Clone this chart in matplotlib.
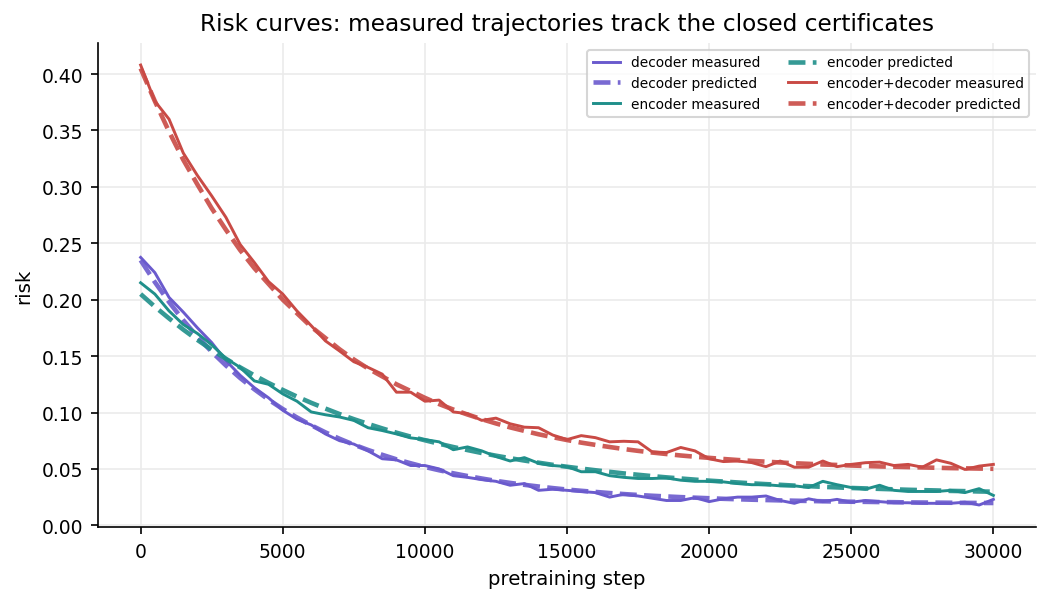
import numpy as np
import matplotlib
matplotlib.use('Agg')
import matplotlib.pyplot as plt

steps = np.arange(0, 30001, 500)

dec_meas = [0.2375, 0.224, 0.202, 0.189, 0.175, 0.162, 0.146, 0.133, 0.122, 0.113,
            0.102, 0.094, 0.089, 0.081, 0.075, 0.072, 0.066, 0.059, 0.058, 0.053,
            0.053, 0.050, 0.044, 0.0425, 0.0405, 0.039, 0.0355, 0.037, 0.031, 0.032,
            0.031, 0.030, 0.029, 0.025, 0.0275, 0.026, 0.024, 0.022, 0.022, 0.0245,
            0.021, 0.0235, 0.025, 0.025, 0.026, 0.022, 0.0195, 0.0235, 0.021, 0.023,
            0.0205, 0.022, 0.021, 0.020, 0.020, 0.0195, 0.0195, 0.0195, 0.0205, 0.018,
            0.023]
dec_pred = [0.235, 0.2156, 0.1979, 0.1818, 0.1671, 0.1538, 0.1417, 0.1306, 0.1206, 0.1114,
            0.1031, 0.0956, 0.0887, 0.0824, 0.0767, 0.0715, 0.0668, 0.0625, 0.0585, 0.0550,
            0.0517, 0.0488, 0.0461, 0.0437, 0.0415, 0.0394, 0.0376, 0.0359, 0.0344, 0.0330,
            0.0317, 0.0306, 0.0296, 0.0286, 0.0277, 0.0269, 0.0262, 0.0256, 0.0250, 0.0245,
            0.0240, 0.0235, 0.0231, 0.0227, 0.0224, 0.0221, 0.0218, 0.0216, 0.0213, 0.0211,
            0.0209, 0.0208, 0.0206, 0.0205, 0.0203, 0.0202, 0.0201, 0.0200, 0.0199, 0.0198,
            0.0198]
enc_meas = [0.215, 0.205, 0.190, 0.178, 0.170, 0.160, 0.148, 0.140, 0.128, 0.125,
            0.1165, 0.110, 0.1005, 0.098, 0.096, 0.093, 0.0865, 0.084, 0.081, 0.0775,
            0.076, 0.074, 0.067, 0.0695, 0.066, 0.061, 0.057, 0.060, 0.055, 0.053,
            0.052, 0.0475, 0.0475, 0.044, 0.0425, 0.0415, 0.0415, 0.042, 0.040, 0.039,
            0.039, 0.0385, 0.037, 0.036, 0.036, 0.035, 0.035, 0.0335, 0.039, 0.036,
            0.0335, 0.032, 0.0355, 0.031, 0.030, 0.030, 0.030, 0.031, 0.029, 0.0325,
            0.0265]
enc_pred = [0.205, 0.1938, 0.1834, 0.1735, 0.1643, 0.1557, 0.1476, 0.1400, 0.1329, 0.1262,
            0.1200, 0.1141, 0.1086, 0.1035, 0.0986, 0.0941, 0.0899, 0.0859, 0.0821, 0.0786,
            0.0754, 0.0723, 0.0694, 0.0667, 0.0641, 0.0617, 0.0595, 0.0574, 0.0555, 0.0536,
            0.0519, 0.0503, 0.0488, 0.0474, 0.0460, 0.0448, 0.0436, 0.0425, 0.0415, 0.0405,
            0.0396, 0.0388, 0.0380, 0.0372, 0.0365, 0.0359, 0.0352, 0.0347, 0.0341, 0.0336,
            0.0331, 0.0327, 0.0323, 0.0319, 0.0315, 0.0312, 0.0309, 0.0305, 0.0303, 0.0300,
            0.0298]
both_meas = [0.408, 0.376, 0.360, 0.330, 0.310, 0.292, 0.273, 0.249, 0.233, 0.216,
             0.205, 0.190, 0.177, 0.1635, 0.1545, 0.145, 0.140, 0.134, 0.118, 0.118,
             0.110, 0.111, 0.1005, 0.099, 0.093, 0.095, 0.090, 0.087, 0.0865, 0.080,
             0.076, 0.0795, 0.0777, 0.074, 0.0745, 0.074, 0.065, 0.0645, 0.069, 0.066,
             0.059, 0.0565, 0.057, 0.0556, 0.052, 0.057, 0.0515, 0.0515, 0.057, 0.052,
             0.054, 0.0555, 0.056, 0.053, 0.054, 0.0515, 0.058, 0.055, 0.0495, 0.0525,
             0.054]
both_pred = [0.405, 0.376, 0.349, 0.324, 0.302, 0.281, 0.262, 0.244, 0.228, 0.214,
             0.200, 0.188, 0.176, 0.166, 0.156, 0.147, 0.139, 0.132, 0.125, 0.119,
             0.113, 0.1075, 0.1026, 0.0982, 0.0941, 0.0903, 0.0868, 0.0837, 0.0807, 0.0781,
             0.0756, 0.0733, 0.0713, 0.0694, 0.0676, 0.0660, 0.0645, 0.0632, 0.0619, 0.0608,
             0.0598, 0.0588, 0.0579, 0.0571, 0.0564, 0.0557, 0.0550, 0.0545, 0.0539, 0.0535,
             0.0530, 0.0526, 0.0522, 0.0519, 0.0516, 0.0513, 0.0510, 0.0507, 0.0505, 0.0503,
             0.0501]

c_dec = '#6a5acd'
c_enc = '#1f8f8a'
c_both = '#c94a45'

fig = plt.figure(figsize=(7.0, 4.013), dpi=150)
ax = fig.add_axes([98/1050, 1-528/602, (1036-98)/1050, (528-44)/602])

ax.plot(steps, dec_meas, color=c_dec, lw=1.4, label='decoder measured')
ax.plot(steps, dec_pred, '--', color=c_dec, lw=2.2, alpha=0.9, label='decoder predicted')
ax.plot(steps, enc_meas, color=c_enc, lw=1.4, label='encoder measured')
ax.plot(steps, enc_pred, '--', color=c_enc, lw=2.2, alpha=0.9, label='encoder predicted')
ax.plot(steps, both_meas, color=c_both, lw=1.4, label='encoder+decoder measured')
ax.plot(steps, both_pred, '--', color=c_both, lw=2.2, alpha=0.9, label='encoder+decoder predicted')

ax.set_title('Risk curves: measured trajectories track the closed certificates', fontsize=11.2)
ax.set_xlabel('pretraining step', fontsize=9.5)
ax.set_ylabel('risk', fontsize=9.5)
ax.set_yticks(np.arange(0, 0.41, 0.05))
ax.tick_params(labelsize=9)
ax.grid(True, color='#ebebeb', lw=0.8)
ax.set_axisbelow(True)
ax.spines['top'].set_visible(False)
ax.spines['right'].set_visible(False)
ax.legend(loc='upper right', ncol=2, fontsize=6.6)

fig.savefig('out.png')
